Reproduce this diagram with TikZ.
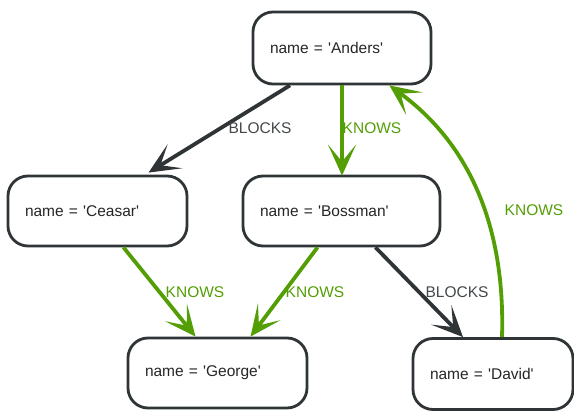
\documentclass[tikz,border=0pt]{standalone}
\usepackage{fontspec}
\setmainfont{Liberation Sans}
\usetikzlibrary{arrows.meta,calc}
\definecolor{dk}{RGB}{47,52,55}
\definecolor{gr}{RGB}{82,158,4}
\newcommand{\q}{\textquotesingle}
\tikzset{
  nd/.style={draw=dk, line width=2.8pt, fill=white, rounded corners=20pt,
    minimum height=70pt, inner xsep=17pt, inner ysep=0pt, align=left,
    font=\fontsize{15.5}{18}\selectfont, text=black!85},
  tipx/.tip={Stealth[length=31pt,width=28pt,inset=17pt]},
  blk/.style={draw=dk, line width=3.8pt, -tipx},
  knw/.style={draw=gr, line width=3.8pt, -tipx},
  lblk/.style={font=\fontsize{15.5}{18}\selectfont, text=dk!90},
  lknw/.style={font=\fontsize{15.5}{18}\selectfont, text=gr},
}
\begin{document}
\begin{tikzpicture}[x=1pt,y=-1pt]
\useasboundingbox (0,0) rectangle (574,414);
\node[nd, text width=144pt, minimum height=72pt] (anders) at (342,48) {name = \q Anders\q};
\node[nd, text width=145pt] (ceasar) at (97.5,211) {name = \q Ceasar\q};
\node[nd, text width=163pt] (bossman) at (341.5,211) {name = \q Bossman\q};
\node[nd, text width=145pt] (george) at (217.5,373) {name = \q George\q};
\node[nd, text width=126pt, minimum height=71pt] (david) at (493,374) {name = \q David\q};

\coordinate (a1) at ($(anders.south)+(-52,0)$);
\coordinate (c1) at ($(ceasar.north)+(51,-2)$);
\coordinate (dtop) at ($(david.north)+(9,0)$);
\coordinate (ase) at ($(anders.south east)+(-43,0)$);
\coordinate (cs) at ($(ceasar.south)+(26,0)$);
\coordinate (gn1) at ($(george.north)+(-22,0)$);
\coordinate (bs1) at ($(bossman.south)+(-24,0)$);
\coordinate (gn2) at ($(george.north)+(33,0)$);
\coordinate (bs2) at ($(bossman.south)+(34,0)$);
\coordinate (dn) at ($(david.north)+(-30,0)$);

\draw[blk] (a1) -- (c1);
\draw[knw] (anders.south) -- ($(bossman.north)+(0.5,1)$);
\draw[knw] (dtop) .. controls (505,240) and (478,150) .. (ase);
\draw[knw] (cs) -- (gn1);
\draw[knw] (bs1) -- (gn2);
\draw[blk] (bs2) -- (dn);

\node[lblk] (l1) at (260,128) {BLOCKS};
\node[lknw] (l2) at (372,128) {KNOWS};
\node[lknw] (l3) at (534,210) {KNOWS};
\node[lknw] (l4) at (195,292) {KNOWS};
\node[lknw] (l5) at (315,292) {KNOWS};
\node[lblk] (l6) at (457,292) {BLOCKS};
\end{tikzpicture}
\end{document}
